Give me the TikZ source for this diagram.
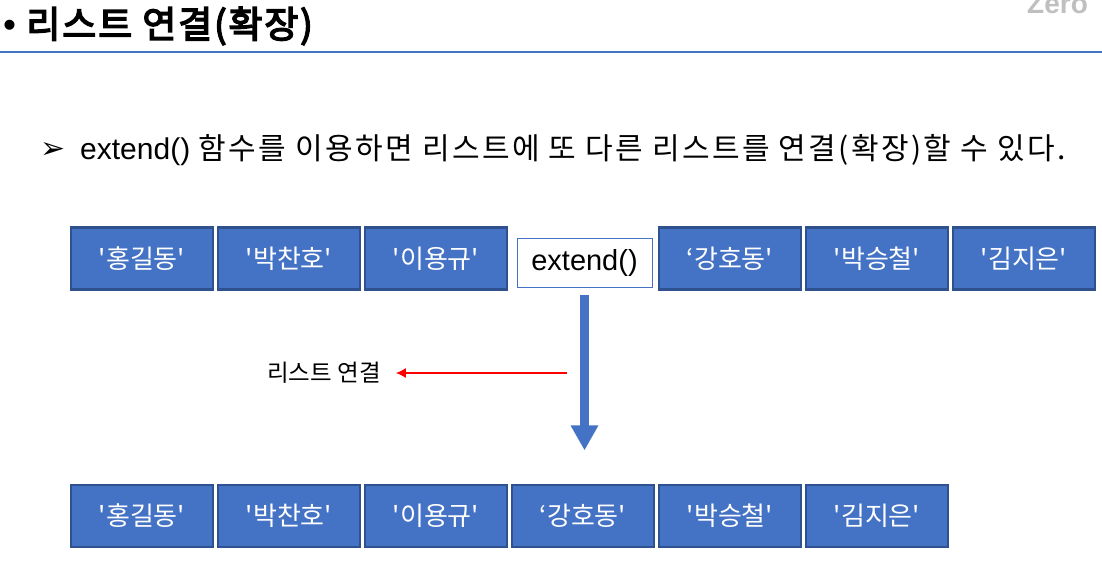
\documentclass[tikz,border=0pt]{standalone}
\usepackage{fontspec}
\setmainfont{Liberation Sans}
\newfontfamily\krfont{Noto Sans CJK KR}
\newfontfamily\krwide{Noto Sans CJK KR}[LetterSpace=8]
\newfontfamily\krtitle{Noto Sans CJK KR}[FakeBold=4, LetterSpace=5]
\newfontfamily\symfont{DejaVu Sans}
\usetikzlibrary{arrows.meta}
\definecolor{boxblue}{HTML}{4472C4}
\definecolor{boxedge}{HTML}{2F528F}
\tikzset{
  namebox/.style={draw=boxedge, fill=boxblue, line width=2.2pt, minimum width=142pt,
    minimum height=62pt, inner sep=0pt, text=white, font=\krfont\fontsize{26}{26}\selectfont},
  funcbox/.style={draw=boxblue, fill=white, line width=0.8pt, minimum width=135pt,
    minimum height=49pt, inner sep=0pt, font=\fontsize{29}{29}\selectfont},
}
\begin{document}
\begin{tikzpicture}[x=1pt,y=-1pt]
    \useasboundingbox (0,0) rectangle (1102,573);
    % Title
    \node[anchor=west, inner sep=0pt, font=\fontsize{37}{37}\selectfont] (title) at (3,26) {•~{\krtitle 리스트 연결(확장)}};
    \node[anchor=base west, inner sep=0pt, text=black!25, font=\bfseries\fontsize{28}{28}\selectfont] (logo) at (1027,13) {Zero};
    \draw[boxblue, line width=1.2pt] (0,52) -- (1102,52);
    % Bullet line
    \node[inner sep=0pt, font=\symfont\fontsize{30}{30}\selectfont] (mark) at (53,150) {➢};
    \node[anchor=west, inner sep=0pt, font=\fontsize{30}{30}\selectfont] (desc) at (80,150)
      {extend() {\krwide 함수를 이용하면 리스트에 또 다른 리스트를 연결(확장)할 수 있다.}};
    % Lists before
    \foreach \name [count=\i] in {'홍길동','박찬호','이용규'}
      \node[namebox] (a\i) at ({142+147*(\i-1)},258.5) {\name};
    \foreach \name [count=\i from 5] in {‘강호동','박승철','김지은'}
      \node[namebox] (a\i) at ({142+147*(\i-1)},258.5) {\name};
    \node[funcbox] (ext) at (584.5,262.5) {extend()};
    % List after
    \foreach \name [count=\i] in {'홍길동','박찬호','이용규',‘강호동','박승철','김지은'}
      \node[namebox] (b\i) at ({142+147*(\i-1)},516) {\name};
    % Arrows
    \coordinate (tip) at ([yshift=-163pt]ext.south);
    \draw[boxblue, line width=9pt, -{Triangle[length=25pt,width=26pt]}] ([yshift=-8pt]ext.south) -- (tip);
    \coordinate (redstart) at (567,373);
    \node[inner xsep=15pt, inner ysep=0pt, font=\krfont\fontsize{23.5}{23.5}\selectfont] (lnk) at (324,373) {리스트 연결};
    \draw[red, line width=1.2pt, -{Latex[length=10pt,width=10pt]}] (redstart) -- (lnk);
\end{tikzpicture}
\end{document}
